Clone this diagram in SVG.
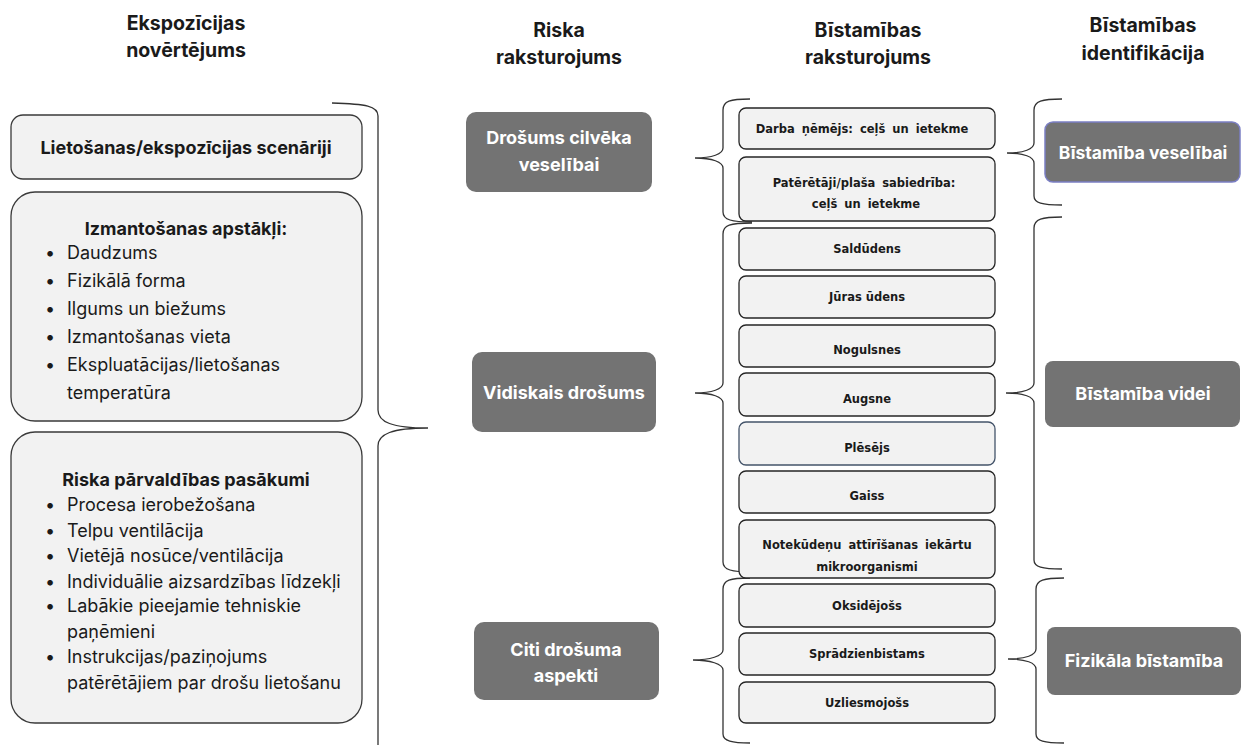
<svg xmlns="http://www.w3.org/2000/svg" width="1244" height="745" viewBox="0 0 1244 745">
<style>
.hdr{font-family:Inter,"Liberation Sans",sans-serif;font-weight:700;font-size:19.5px;fill:#1a1a1a;text-anchor:middle}
.lbox{fill:#f2f2f2;stroke:#3a3a3a;stroke-width:1.3}
.lt{font-family:Inter,"Liberation Sans",sans-serif;font-size:18px;fill:#1a1a1a}
.lb{font-family:Inter,"Liberation Sans",sans-serif;font-size:18px;font-weight:700;fill:#1a1a1a;text-anchor:middle}
.dark{fill:#737373}
.dt{font-family:Inter,"Liberation Sans",sans-serif;font-size:18px;font-weight:700;fill:#ffffff;text-anchor:middle}
.hbox{fill:#f2f2f2;stroke:#262626;stroke-width:1.3}
.ht{font-family:"DejaVu Sans",Verdana,sans-serif;font-size:11.5px;font-weight:700;fill:#1a1a1a;text-anchor:middle}
.br{fill:none;stroke:#333;stroke-width:1.3}
</style>

<g id="headers">
<text class="hdr" x="186" y="30">Ekspozīcijas</text>
<text class="hdr" x="186" y="57">novērtējums</text>
<text class="hdr" x="559" y="37">Riska</text>
<text class="hdr" x="559" y="64">raksturojums</text>
<text class="hdr" x="868" y="37">Bīstamības</text>
<text class="hdr" x="868" y="64">raksturojums</text>
<text class="hdr" x="1143" y="32">Bīstamības</text>
<text class="hdr" x="1143" y="60">identifikācija</text>
</g>

<g id="connectors">
<path class="br" d="M332,103 C366,104 378,106 378,116 L378,410 C378,422 392,428 428,428 C392,428 378,434 378,446 L378,745"/>
<path class="br" d="M750,99 C730,99 723,101 723,110 L723,148 C723,154 712,158 695,158 C712,158 723,162 723,168 L723,212 C723,220 732,222 752,222"/>
<path class="br" d="M752,223 C730,223 723,225 723,234 L723,383 C723,389 712,393 695,393 C712,393 723,397 723,403 L723,562 C723,570 732,572 752,572"/>
<path class="br" d="M750,578 C730,578 723,580 723,589 L723,650 C723,656 710,660 693,660 C710,660 723,664 723,670 L723,734 C723,741 732,743 750,743"/>
<path class="br" d="M1062,99 C1042,99 1034,101 1034,110 L1034,143 C1034,149 1024,153 1007,153 C1024,153 1034,157 1034,163 L1034,196 C1034,203 1042,205 1062,205"/>
<path class="br" d="M1062,217 C1042,217 1034,219 1034,228 L1034,383 C1034,389 1024,393 1006,393 C1024,393 1034,397 1034,403 L1034,560 C1034,567 1042,569 1062,569"/>
<path class="br" d="M1064,578 C1044,578 1036,580 1036,589 L1036,649 C1036,655 1026,659 1008,659 C1026,659 1036,663 1036,669 L1036,734 C1036,741 1044,743 1064,743"/>
</g>

<g id="scenarios">
<rect class="lbox" x="11" y="115" width="351" height="64" rx="12"/>
<text class="lb" x="186" y="154">Lietošanas/ekspozīcijas scenāriji</text>
</g>

<g id="conditions">
<rect class="lbox" x="11" y="192" width="351" height="229" rx="24"/>
<text class="lb" x="186" y="235">Izmantošanas apstākļi:</text>
<g class="lt">
<text x="45" y="259">•</text><text x="67" y="259">Daudzums</text>
<text x="45" y="287">•</text><text x="67" y="287">Fizikālā forma</text>
<text x="45" y="315">•</text><text x="67" y="315">Ilgums un biežums</text>
<text x="45" y="343">•</text><text x="67" y="343">Izmantošanas vieta</text>
<text x="45" y="371">•</text><text x="67" y="371">Ekspluatācijas/lietošanas</text>
<text x="67" y="399">temperatūra</text>
</g>
</g>

<g id="rmm">
<rect class="lbox" x="11" y="432" width="351" height="291" rx="24"/>
<text class="lb" x="186" y="486">Riska pārvaldības pasākumi</text>
<g class="lt">
<text x="45" y="511">•</text><text x="67" y="511">Procesa ierobežošana</text>
<text x="45" y="537">•</text><text x="67" y="537">Telpu ventilācija</text>
<text x="45" y="562">•</text><text x="67" y="562">Vietējā nosūce/ventilācija</text>
<text x="45" y="588">•</text><text x="67" y="588">Individuālie aizsardzības līdzekļi</text>
<text x="45" y="612">•</text><text x="67" y="612">Labākie pieejamie tehniskie</text>
<text x="67" y="638">paņēmieni</text>
<text x="45" y="663">•</text><text x="67" y="663">Instrukcijas/paziņojums</text>
<text x="67" y="689">patērētājiem par drošu lietošanu</text>
</g>
</g>

<g id="risk-health">
<rect class="dark" x="466" y="112" width="186" height="80" rx="10"/>
<text class="dt" x="559" y="144">Drošums cilvēka</text>
<text class="dt" x="559" y="171">veselībai</text>
</g>
<g id="risk-env">
<rect class="dark" x="472" y="352" width="184" height="80" rx="10"/>
<text class="dt" x="564" y="399">Vidiskais drošums</text>
</g>
<g id="risk-other">
<rect class="dark" x="474" y="622" width="185" height="78" rx="10"/>
<text class="dt" x="566" y="656">Citi drošuma</text>
<text class="dt" x="566" y="682">aspekti</text>
</g>

<g id="h-workers">
<rect class="hbox" x="739" y="108" width="256" height="41" rx="7"/>
<text class="ht" x="862" y="133" word-spacing="3">Darba ņēmējs: ceļš un ietekme</text>
</g>
<g id="h-consumers">
<rect class="hbox" x="739" y="157" width="256" height="64" rx="7"/>
<text class="ht" x="864" y="187" word-spacing="3">Patērētāji/plaša sabiedrība:</text>
<text class="ht" x="866" y="208" word-spacing="3">ceļš un ietekme</text>
</g>
<g id="h-fresh">
<rect class="hbox" x="739" y="228" width="256" height="42" rx="7"/>
<text class="ht" x="867" y="253">Saldūdens</text>
</g>
<g id="h-sea">
<rect class="hbox" x="739" y="276" width="256" height="42" rx="7"/>
<text class="ht" x="867" y="301">Jūras ūdens</text>
</g>
<g id="h-sediment">
<rect class="hbox" x="739" y="325" width="256" height="42" rx="7"/>
<text class="ht" x="867" y="354">Nogulsnes</text>
</g>
<g id="h-soil">
<rect class="hbox" x="739" y="373" width="256" height="43" rx="7"/>
<text class="ht" x="867" y="403">Augsne</text>
</g>
<g id="h-predator">
<rect class="hbox" x="739" y="422" width="256" height="43" rx="7" style="stroke:#44546a"/>
<text class="ht" x="867" y="452">Plēsējs</text>
</g>
<g id="h-air">
<rect class="hbox" x="739" y="471" width="256" height="42" rx="7"/>
<text class="ht" x="867" y="500">Gaiss</text>
</g>
<g id="h-stp">
<rect class="hbox" x="739" y="520" width="256" height="58" rx="7"/>
<text class="ht" x="867" y="549" word-spacing="3">Notekūdeņu attīrīšanas iekārtu</text>
<text class="ht" x="867" y="571">mikroorganismi</text>
</g>
<g id="h-oxid">
<rect class="hbox" x="739" y="584" width="256" height="43" rx="7"/>
<text class="ht" x="867" y="610">Oksidējošs</text>
</g>
<g id="h-expl">
<rect class="hbox" x="739" y="633" width="256" height="42" rx="7"/>
<text class="ht" x="867" y="658">Sprādzienbistams</text>
</g>
<g id="h-flam">
<rect class="hbox" x="739" y="682" width="256" height="41" rx="7"/>
<text class="ht" x="867" y="707">Uzliesmojošs</text>
</g>

<g id="id-health">
<rect class="dark" x="1045" y="122" width="195" height="60" rx="8" style="stroke:#7b7fc4;stroke-width:1.5"/>
<text class="dt" x="1143" y="159" style="font-size:17.5px">Bīstamība veselībai</text>
</g>
<g id="id-env">
<rect class="dark" x="1045" y="361" width="195" height="66" rx="8"/>
<text class="dt" x="1143" y="400">Bīstamība videi</text>
</g>
<g id="id-phys">
<rect class="dark" x="1047" y="627" width="194" height="68" rx="8"/>
<text class="dt" x="1144" y="667">Fizikāla bīstamība</text>
</g>
</svg>
